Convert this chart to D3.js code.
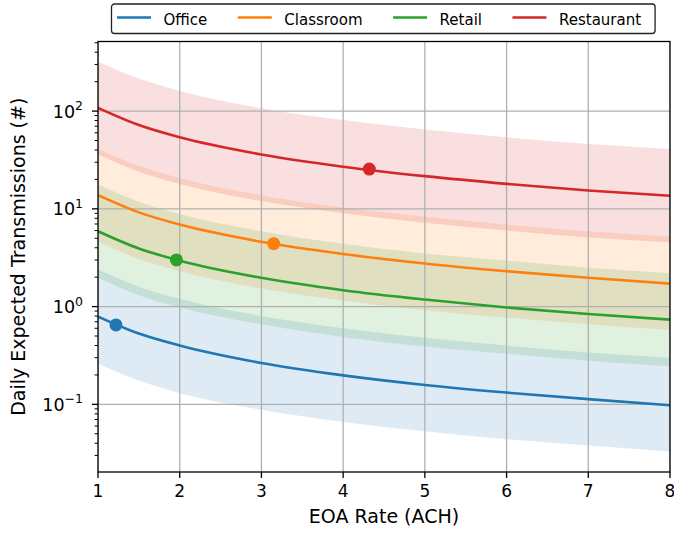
<!DOCTYPE html>
<html>
<head>
<meta charset="utf-8">
<script src="https://cdn.jsdelivr.net/npm/d3@7"></script>
<style>
  body { margin: 0; background: #fff; }
  svg { display: block; }
  text { font-family: "DejaVu Sans", sans-serif; fill: #000; }
</style>
</head>
<body>
<script>
const width = 674;
const height = 535;
const margins = {
  top: 41.5,
  left: 98,
  bottom: 63,
  right: 4,
};

const categories = ['Office', 'Classroom', 'Retail', 'Restaurant'];
const colors = ['#1f77b4', '#ff7f0e', '#2ca02c', '#d62728'];

// EOA rate samples (ACH)
const rates = [1, 1.5, 2, 3, 4, 5, 6, 7, 8];

const officeMid  = [0.79, 0.53, 0.40, 0.265, 0.198, 0.158, 0.132, 0.113, 0.098];
const officeLow  = [0.26, 0.175, 0.13, 0.088, 0.066, 0.053, 0.044, 0.038, 0.033];
const officeHigh = [2.4, 1.6, 1.2, 0.80, 0.60, 0.48, 0.40, 0.34, 0.30];

const classroomMid  = [13.8, 9.2, 6.9, 4.6, 3.45, 2.76, 2.3, 1.97, 1.72];
const classroomLow  = [4.6, 3.07, 2.3, 1.53, 1.15, 0.92, 0.77, 0.66, 0.575];
const classroomHigh = [41, 27.6, 20.7, 13.8, 10.3, 8.3, 6.9, 5.9, 5.2];

const retailMid  = [5.9, 3.93, 2.95, 1.97, 1.47, 1.18, 0.98, 0.84, 0.735];
const retailLow  = [1.97, 1.31, 0.98, 0.66, 0.49, 0.39, 0.33, 0.28, 0.245];
const retailHigh = [17.7, 11.8, 8.85, 5.9, 4.4, 3.5, 2.95, 2.5, 2.2];

const restaurantMid  = [108, 72, 54, 36, 27, 21.6, 18, 15.4, 13.6];
const restaurantLow  = [36, 24, 18, 12, 9, 7.2, 6, 5.1, 4.55];
const restaurantHigh = [322, 215, 161, 107, 81, 65, 54, 46, 41];

// highlighted operating points
const markerRate  = [1.22, 3.15, 1.96, 4.32];
const markerValue = [0.65, 4.4, 3.0, 25.5];

const xTicks = [1, 2, 3, 4, 5, 6, 7, 8];
const yTicks = [0.1, 1, 10, 100];
const yTickExp = ['\u22121', '0', '1', '2'];

const mids  = [officeMid, classroomMid, retailMid, restaurantMid];
const lows  = [officeLow, classroomLow, retailLow, restaurantLow];
const highs = [officeHigh, classroomHigh, retailHigh, restaurantHigh];

const series = categories.map((name, i) => ({
  name: name,
  color: colors[i],
  points: rates.map((r, j) => ({ x: r, y: mids[i][j], lo: lows[i][j], hi: highs[i][j] })),
  marker: { x: markerRate[i], y: markerValue[i] },
}));

const x_start = margins.left;
const x_end = width - margins.right;
const y_start = height - margins.bottom;
const y_end = margins.top;

const xScale = d3.scaleLinear()
  .domain([1, 8])
  .range([x_start, x_end]);
const yScale = d3.scaleLog()
  .domain([Math.pow(10, -1.692), Math.pow(10, 2.712)])
  .range([y_start, y_end]);

const svg = d3.select('body')
  .append('svg')
  .attr('width', width)
  .attr('height', height);

svg.append('rect')
  .attr('width', width)
  .attr('height', height)
  .attr('fill', '#fff');

svg.append('defs')
  .append('clipPath')
  .attr('id', 'plot-clip')
  .append('rect')
  .attr('x', x_start)
  .attr('y', y_end)
  .attr('width', x_end - x_start)
  .attr('height', y_start - y_end);

const plot_g = svg.append('g').attr('clip-path', 'url(#plot-clip)');

// uncertainty bands
const band = d3.area()
  .x(d => xScale(d.x))
  .y0(d => yScale(d.lo))
  .y1(d => yScale(d.hi))
  .curve(d3.curveMonotoneX);

plot_g.selectAll('.band')
  .data(series)
  .enter()
  .append('path')
  .attr('class', 'band')
  .attr('d', d => band(d.points))
  .attr('fill', d => d.color)
  .attr('fill-opacity', 0.15);

// grid
const grid_g = plot_g.append('g').attr('class', 'grid');
grid_g.selectAll('.vgrid')
  .data(xTicks)
  .enter()
  .append('line')
  .attr('x1', d => xScale(d))
  .attr('x2', d => xScale(d))
  .attr('y1', y_end)
  .attr('y2', y_start)
  .attr('stroke', '#b0b0b0')
  .attr('stroke-width', 1.3);
grid_g.selectAll('.hgrid')
  .data(yTicks)
  .enter()
  .append('line')
  .attr('x1', x_start)
  .attr('x2', x_end)
  .attr('y1', d => yScale(d))
  .attr('y2', d => yScale(d))
  .attr('stroke', '#b0b0b0')
  .attr('stroke-width', 1.3);

// curves
const line = d3.line()
  .x(d => xScale(d.x))
  .y(d => yScale(d.y))
  .curve(d3.curveMonotoneX);

plot_g.selectAll('.curve')
  .data(series)
  .enter()
  .append('path')
  .attr('class', 'curve')
  .attr('d', d => line(d.points))
  .attr('fill', 'none')
  .attr('stroke', d => d.color)
  .attr('stroke-width', 2.6);

plot_g.selectAll('.marker')
  .data(series)
  .enter()
  .append('circle')
  .attr('class', 'marker')
  .attr('cx', d => xScale(d.marker.x))
  .attr('cy', d => yScale(d.marker.y))
  .attr('r', 6.5)
  .attr('fill', d => d.color);

// axes
const axis_g = svg.append('g').attr('class', 'axis');

axis_g.selectAll('.xtick')
  .data(xTicks)
  .enter()
  .append('line')
  .attr('x1', d => xScale(d))
  .attr('x2', d => xScale(d))
  .attr('y1', y_start)
  .attr('y2', y_start + 6)
  .attr('stroke', '#000')
  .attr('stroke-width', 1.3);

axis_g.selectAll('.xlabel')
  .data(xTicks)
  .enter()
  .append('text')
  .attr('x', d => xScale(d))
  .attr('y', y_start + 24.5)
  .attr('text-anchor', 'middle')
  .attr('font-size', 17)
  .text(d => d);

const minorTicks = [];
for (let e = -2; e <= 2; e++) {
  for (let k = 2; k <= 9; k++) {
    const v = k * Math.pow(10, e);
    const dom = yScale.domain();
    if (v >= dom[0] && v <= dom[1]) minorTicks.push(v);
  }
}

axis_g.selectAll('.yminor')
  .data(minorTicks)
  .enter()
  .append('line')
  .attr('x1', x_start - 3.4)
  .attr('x2', x_start)
  .attr('y1', d => yScale(d))
  .attr('y2', d => yScale(d))
  .attr('stroke', '#000')
  .attr('stroke-width', 1);

axis_g.selectAll('.ytick')
  .data(yTicks)
  .enter()
  .append('line')
  .attr('x1', x_start - 6)
  .attr('x2', x_start)
  .attr('y1', d => yScale(d))
  .attr('y2', d => yScale(d))
  .attr('stroke', '#000')
  .attr('stroke-width', 1.3);

const ylab = axis_g.selectAll('.ylabel')
  .data(yTicks)
  .enter()
  .append('text')
  .attr('x', x_start - 15)
  .attr('y', d => yScale(d) + 6.5)
  .attr('text-anchor', 'end')
  .attr('font-size', 17.5);
ylab.append('tspan').text('10');
ylab.append('tspan')
  .attr('dy', -7.5)
  .attr('font-size', 12.5)
  .text((d, i) => yTickExp[i]);

axis_g.append('rect')
  .attr('x', x_start)
  .attr('y', y_end)
  .attr('width', x_end - x_start)
  .attr('height', y_start - y_end)
  .attr('fill', 'none')
  .attr('stroke', '#000')
  .attr('stroke-width', 1.3);

axis_g.append('text')
  .attr('x', (x_start + x_end) / 2)
  .attr('y', 523)
  .attr('text-anchor', 'middle')
  .attr('font-size', 19)
  .text('EOA Rate (ACH)');

axis_g.append('text')
  .attr('transform', 'translate(24.5,' + ((y_start + y_end) / 2) + ') rotate(-90)')
  .attr('text-anchor', 'middle')
  .attr('font-size', 19)
  .text('Daily Expected Transmissions (#)');

// legend
const legend_g = svg.append('g').attr('class', 'legend');
const legendBox = legend_g.append('rect')
  .attr('y', 4)
  .attr('height', 29.5)
  .attr('rx', 3)
  .attr('fill', '#fff')
  .attr('stroke', '#222')
  .attr('stroke-width', 1.3);

let lx = 117;
series.forEach(s => {
  legend_g.append('line')
    .attr('x1', lx)
    .attr('x2', lx + 34)
    .attr('y1', 17.5)
    .attr('y2', 17.5)
    .attr('stroke', s.color)
    .attr('stroke-width', 2.6);
  const t = legend_g.append('text')
    .attr('x', lx + 46.5)
    .attr('y', 24.5)
    .attr('font-size', 15)
    .text(s.name);
  lx += 46.5 + t.node().getComputedTextLength() + 30.5;
});
legendBox
  .attr('x', 111.5)
  .attr('width', lx - 30.5 + 14 - 111.5);
</script>
</body>
</html>
